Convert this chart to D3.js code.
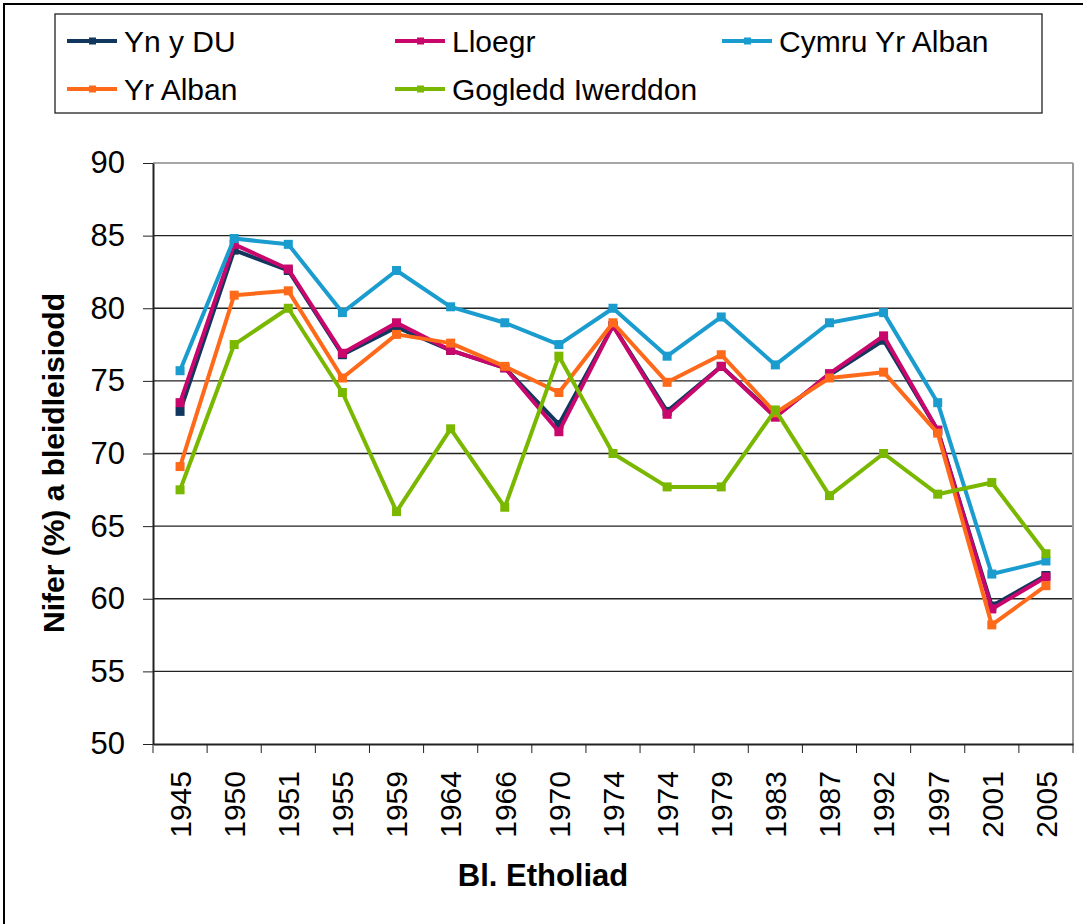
<!DOCTYPE html>
<html>
<head>
<meta charset="utf-8">
<script src="https://cdn.jsdelivr.net/npm/d3@7"></script>
<style>
  body { margin: 0; background: #fff; }
  text { font-family: Arial, "Liberation Sans", sans-serif; }
</style>
</head>
<body>
<div id="chart"></div>
<script>
var years = ["1945","1950","1951","1955","1959","1964","1966","1970","1974","1974","1979","1983","1987","1992","1997","2001","2005"];

var ynYDU =        [72.9, 84.0, 82.6, 76.8, 78.7, 77.1, 75.9, 72.0, 78.8, 72.9, 76.0, 72.6, 75.4, 77.8, 71.6, 59.5, 61.6];
var lloegr =       [73.5, 84.4, 82.7, 76.9, 79.0, 77.1, 75.9, 71.5, 78.8, 72.7, 76.0, 72.5, 75.5, 78.1, 71.6, 59.3, 61.5];
var cymru =        [75.7, 84.8, 84.4, 79.7, 82.6, 80.1, 79.0, 77.5, 80.0, 76.7, 79.4, 76.1, 79.0, 79.7, 73.5, 61.7, 62.6];
var yrAlban =      [69.1, 80.9, 81.2, 75.2, 78.2, 77.6, 76.0, 74.2, 79.0, 74.9, 76.8, 72.8, 75.2, 75.6, 71.4, 58.2, 60.9];
var gogledd =      [67.5, 77.5, 80.0, 74.2, 66.0, 71.7, 66.3, 76.7, 70.0, 67.7, 67.7, 73.0, 67.1, 70.0, 67.2, 68.0, 63.1];

var seriesNames = ["Yn y DU", "Lloegr", "Cymru Yr Alban", "Yr Alban", "Gogledd Iwerddon"];
var seriesValues = [ynYDU, lloegr, cymru, yrAlban, gogledd];
var colours = ["#12375f", "#c8066c", "#1a9ccf", "#ff6a1a", "#7ab800"];
var yTicks = [50, 55, 60, 65, 70, 75, 80, 85, 90];

var width = 1083, height = 924;
var margin = { top: 163, left: 153, bottom: 180, right: 10 };
var plotW = 1073 - margin.left, plotH = 744 - margin.top;

var svg = d3.select("#chart").append("svg")
    .attr("width", width)
    .attr("height", height);

// outer frame
svg.append("path")
    .attr("d", "M4,924 V4 H1083")
    .attr("fill", "none")
    .attr("stroke", "#000")
    .attr("stroke-width", 2);

var g = svg.append("g").attr("transform", "translate(" + margin.left + "," + margin.top + ")");

var x = d3.scaleBand().domain(d3.range(years.length)).range([0, plotW]);
var y = d3.scaleLinear().domain([50, 90]).range([plotH, 0]);

// gridlines
g.selectAll(".grid")
    .data(yTicks.slice(1))
    .enter().append("line")
    .attr("x1", 0).attr("x2", plotW)
    .attr("y1", function(d){ return y(d); })
    .attr("y2", function(d){ return y(d); })
    .attr("stroke", function(d){ return d === 90 ? "#888" : "#222"; })
    .attr("stroke-width", 1.3);

// right border of plot
g.append("line")
    .attr("x1", plotW).attr("x2", plotW)
    .attr("y1", 0).attr("y2", plotH)
    .attr("stroke", "#999").attr("stroke-width", 2);

// y axis
var yAxis = g.append("g")
    .call(d3.axisLeft(y).tickValues(yTicks).tickSize(10).tickSizeOuter(0));
yAxis.select(".domain").attr("stroke", "#222").attr("stroke-width", 2);
yAxis.selectAll(".tick line").attr("stroke", "#222");
yAxis.selectAll(".tick text")
    .attr("x", -28)
    .style("font-size", "31px")
    .attr("fill", "#000");

// x axis
var xAxis = g.append("g").attr("transform", "translate(0," + plotH + ")")
    .call(d3.axisBottom(x).tickFormat(function(i){ return years[i]; }).tickSize(0).tickSizeOuter(0));
xAxis.select(".domain").attr("stroke", "#222").attr("stroke-width", 2);
xAxis.selectAll(".tick text")
    .attr("transform", "rotate(-90)")
    .attr("x", -27)
    .attr("y", 0)
    .attr("dy", "0.36em")
    .style("text-anchor", "end")
    .style("font-size", "30px")
    .attr("fill", "#000");

// x tick marks between categories
g.selectAll(".xtick")
    .data(d3.range(years.length + 1))
    .enter().append("line")
    .attr("x1", function(i){ return i * x.step(); })
    .attr("x2", function(i){ return i * x.step(); })
    .attr("y1", plotH).attr("y2", plotH + 9)
    .attr("stroke", "#222");

var line = d3.line()
    .x(function(d, i){ return x(i) + x.bandwidth() / 2; })
    .y(function(d){ return y(d); });

seriesValues.forEach(function(vals, k){
    g.append("path")
        .datum(vals)
        .attr("fill", "none")
        .attr("stroke", colours[k])
        .attr("stroke-width", 4)
        .attr("stroke-linejoin", "round")
        .attr("d", line);
    g.selectAll(".m" + k)
        .data(vals)
        .enter().append("rect")
        .attr("x", function(d, i){ return x(i) + x.bandwidth() / 2 - 4.5; })
        .attr("y", function(d){ return y(d) - 4.5; })
        .attr("width", 9).attr("height", 9)
        .attr("fill", colours[k]);
});

// axis titles
svg.append("text")
    .attr("transform", "translate(64,463) rotate(-90)")
    .style("text-anchor", "middle")
    .style("font-size", "30px")
    .style("font-weight", "bold")
    .text("Nifer (%) a bleidleisiodd");

svg.append("text")
    .attr("x", 543).attr("y", 886)
    .style("text-anchor", "middle")
    .style("font-size", "31px")
    .style("font-weight", "bold")
    .text("Bl. Etholiad");

// legend
svg.append("rect")
    .attr("x", 55).attr("y", 14)
    .attr("width", 987).attr("height", 99)
    .attr("fill", "#fff")
    .attr("stroke", "#222")
    .attr("stroke-width", 1.3);

var legX = [67, 395, 722];
var legY = [41, 89];
var legend = svg.selectAll(".leg")
    .data(seriesNames)
    .enter().append("g")
    .attr("transform", function(d, i){
        return "translate(" + legX[i % 3] + "," + legY[Math.floor(i / 3)] + ")";
    });
legend.append("line")
    .attr("x1", 0).attr("x2", 50)
    .attr("stroke", function(d, i){ return colours[i]; })
    .attr("stroke-width", 4);
legend.append("rect")
    .attr("x", 22).attr("y", -3.5).attr("width", 7).attr("height", 7)
    .attr("fill", function(d, i){ return colours[i]; });
legend.append("text")
    .attr("x", 57).attr("dy", "0.36em")
    .style("font-size", "30px")
    .text(function(d){ return d; });
</script>
</body>
</html>
